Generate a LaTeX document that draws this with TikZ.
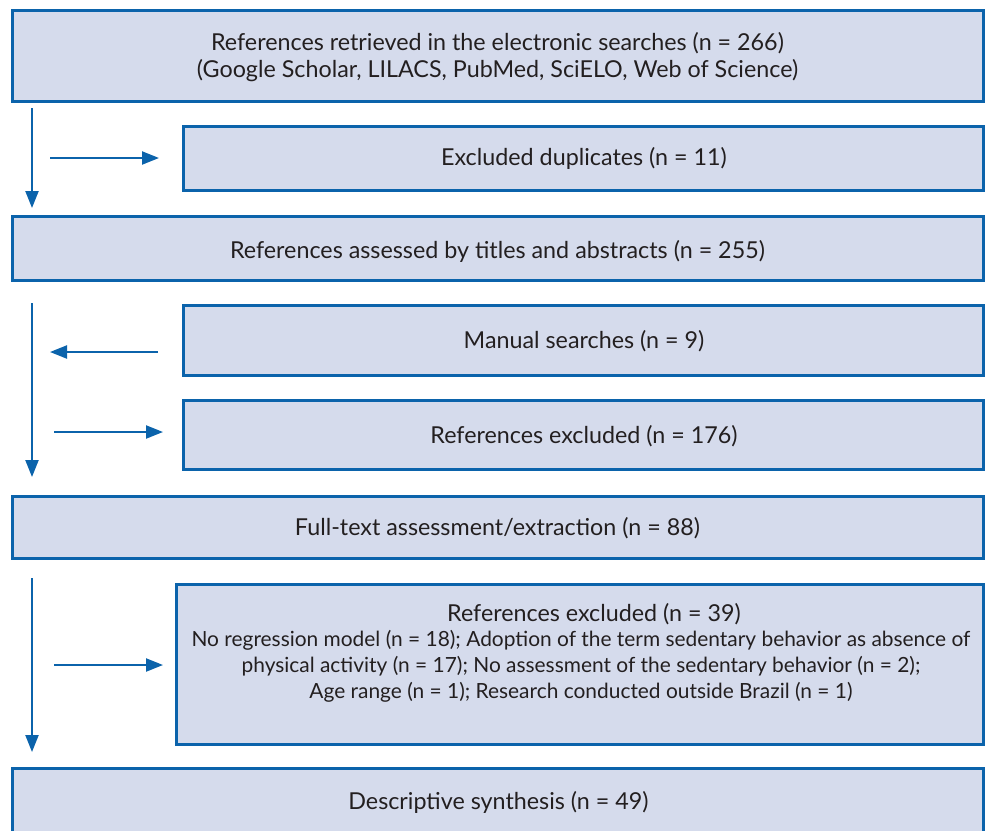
\documentclass[tikz,border=0pt]{standalone}
\usepackage{fontspec}
\setmainfont{Lato}
\usetikzlibrary{arrows.meta}
\definecolor{bordc}{HTML}{0B63AB}
\definecolor{fillc}{HTML}{D5DBEC}
\definecolor{txtc}{HTML}{231F20}
\tikzset{
  flowbox/.style={draw=bordc, fill=fillc, line width=3pt},
  flowtxt/.style={text=txtc, font=\fontsize{23.3}{27}\selectfont, align=center, inner sep=0pt},
  smalltxt/.style={text=txtc, font=\fontsize{20.9}{26}\selectfont, align=center, inner sep=0pt},
  flowarrow/.style={draw=bordc, line width=2.2pt, -{Triangle[length=17pt,width=13pt]}}
}
\begin{document}
\begin{tikzpicture}[x=1pt,y=-1pt]
\useasboundingbox (0,0) rectangle (987,830);
\clip (0,0) rectangle (987,830);
% boxes
\draw[flowbox] (12,10) rectangle (983,101);
\node[flowtxt] (t1) at (497.5,57) {References retrieved in the electronic searches (n = 266)\\(Google Scholar, LILACS, PubMed, SciELO, Web of Science)};
\draw[flowbox] (183,126) rectangle (983,190);
\node[flowtxt] (t2) at (584,158) {Excluded duplicates (n = 11)};
\draw[flowbox] (12,216) rectangle (983,280);
\node[flowtxt] (t3) at (497.5,251) {References assessed by titles and abstracts (n = 255)};
\draw[flowbox] (183,305) rectangle (983,375);
\node[flowtxt] (t4) at (584,341) {Manual searches (n = 9)};
\draw[flowbox] (183,400) rectangle (983,469);
\node[flowtxt] (t5) at (584,436) {References excluded (n = 176)};
\draw[flowbox] (12,496) rectangle (983,558);
\node[flowtxt] (t6) at (497.5,528) {Full-text assessment/extraction (n = 88)};
\draw[flowbox] (176,584) rectangle (983,744);
\node[flowtxt] (t7) at (594,614) {References excluded (n = 39)};
\node[smalltxt] (t7b) at (581,666) {No regression model (n = 18); Adoption of the term sedentary behavior as absence of\\physical activity (n = 17); No assessment of the sedentary behavior (n = 2);\\Age range (n = 1); Research conducted outside Brazil (n = 1)};
\draw[flowbox] (12,768) rectangle (983,850);
\node[flowtxt] (t8) at (498.5,802) {Descriptive synthesis (n = 49)};
% arrows
\coordinate (v1s) at (32,108); \coordinate (v1e) at (32,208);
\coordinate (h1s) at (50,158); \coordinate (h1e) at (159,158);
\coordinate (v2s) at (32,303); \coordinate (v2e) at (32,477);
\coordinate (h2s) at (158,352); \coordinate (h2e) at (50,352);
\coordinate (h3s) at (54,432); \coordinate (h3e) at (163,432);
\coordinate (v3s) at (32,578); \coordinate (v3e) at (32,752);
\coordinate (h4s) at (54,665); \coordinate (h4e) at (163,665);
\draw[flowarrow] (v1s) -- (v1e);
\draw[flowarrow] (h1s) -- (h1e);
\draw[flowarrow] (v2s) -- (v2e);
\draw[flowarrow] (h2s) -- (h2e);
\draw[flowarrow] (h3s) -- (h3e);
\draw[flowarrow] (v3s) -- (v3e);
\draw[flowarrow] (h4s) -- (h4e);
\end{tikzpicture}
\end{document}
